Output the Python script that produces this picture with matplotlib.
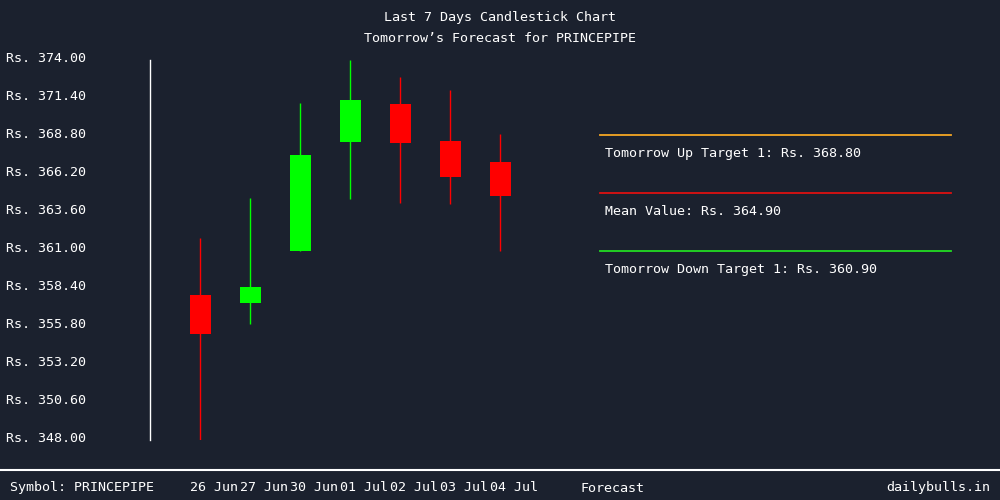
import matplotlib
matplotlib.use('Agg')
import matplotlib.pyplot as plt
import matplotlib.transforms as mtransforms

# candle data
dates = ['26 Jun', '27 Jun', '30 Jun', '01 Jul', '02 Jul', '03 Jul', '04 Jul']
opens = [357.92, 357.37, 360.93, 368.39, 370.99, 368.46, 367.02]
closes = [355.24, 358.47, 367.50, 371.26, 368.32, 365.99, 364.69]
highs = [361.82, 364.56, 371.06, 374.00, 372.84, 371.95, 368.94]
lows = [347.95, 355.94, 360.93, 364.49, 364.22, 364.15, 360.93]

yTicks = [374.00, 371.40, 368.80, 366.20, 363.60, 361.00, 358.40, 355.80, 353.20, 350.60, 348.00]

symbol = 'PRINCEPIPE'
upTarget = 368.80
meanValue = 364.90
downTarget = 360.90

bg = '#1b212e'
fontName = 'DejaVu Sans Mono'
fs = 9.6

fig = plt.figure(figsize=(10, 5), dpi=100, facecolor=bg)
ax = fig.add_axes([0.15, 0.12, 0.40, 0.76], facecolor=bg)

for i in range(len(dates)):
    up = closes[i] >= opens[i]
    col = '#00ff00' if up else '#ff0000'
    ax.vlines(i, lows[i], highs[i], color=col, linewidth=1.0)
    bottom = min(opens[i], closes[i])
    ax.bar(i, abs(closes[i] - opens[i]), bottom=bottom, width=0.42, color=col, linewidth=0)

ax.set_xlim(-1, 7)
ax.set_ylim(348, 374)

for s in ['top', 'right', 'bottom']:
    ax.spines[s].set_visible(False)
ax.spines['left'].set_color('white')
ax.spines['left'].set_linewidth(1.0)

ax.set_yticks(yTicks)
ax.set_yticklabels(['Rs. %.2f' % v for v in yTicks], fontfamily=fontName, fontsize=fs, color='white', ha='left')
ax.tick_params(axis='y', length=0, pad=104)
yOffset = mtransforms.ScaledTranslation(0, 2.5 / 100, fig.dpi_scale_trans)
for lbl in ax.get_yticklabels():
    lbl.set_transform(lbl.get_transform() + yOffset)

ax.set_xticks(range(len(dates)))
ax.set_xticklabels(dates, fontfamily=fontName, fontsize=fs, color='white', ha='left')
ax.tick_params(axis='x', length=0, pad=29.5)
offset = mtransforms.ScaledTranslation(-10 / 100, 0, fig.dpi_scale_trans)
for lbl in ax.get_xticklabels():
    lbl.set_transform(lbl.get_transform() + offset)

# titles
fig.text(0.5, 1 - 18 / 500, 'Last 7 Days Candlestick Chart', ha='center', va='center',
         fontfamily=fontName, fontsize=fs, color='white')
fig.text(0.5, 1 - 38 / 500, 'Tomorrow\u2019s Forecast for ' + symbol, ha='center', va='center',
         fontfamily=fontName, fontsize=fs, color='white')

# forecast panel
panel = [('Tomorrow Up Target 1: Rs. %.2f' % upTarget, '#f5a623', 135),
         ('Mean Value: Rs. %.2f' % meanValue, '#dd1111', 193),
         ('Tomorrow Down Target 1: Rs. %.2f' % downTarget, '#22dd22', 251)]
for txt, col, ypx in panel:
    yf = 1 - ypx / 500
    fig.add_artist(plt.Line2D([0.600, 0.951], [yf, yf], color=col, linewidth=1.3))
    fig.text(0.605, 1 - (ypx + 19) / 500, txt, ha='left', va='center',
             fontfamily=fontName, fontsize=fs, color='white')

# footer
fig.add_artist(plt.Line2D([0, 1], [1 - 470 / 500, 1 - 470 / 500], color='white', linewidth=1.5))
fig.text(0.010, 1 - 488 / 500, 'Symbol: ' + symbol, ha='left', va='center',
         fontfamily=fontName, fontsize=fs, color='white')
fig.text(0.580, 1 - 488 / 500, 'Forecast', ha='left', va='center',
         fontfamily=fontName, fontsize=fs, color='white')
fig.text(0.990, 1 - 488 / 500, 'dailybulls.in', ha='right', va='center',
         fontfamily=fontName, fontsize=fs, color='white')

fig.savefig('out.png', dpi=100, facecolor=bg)
